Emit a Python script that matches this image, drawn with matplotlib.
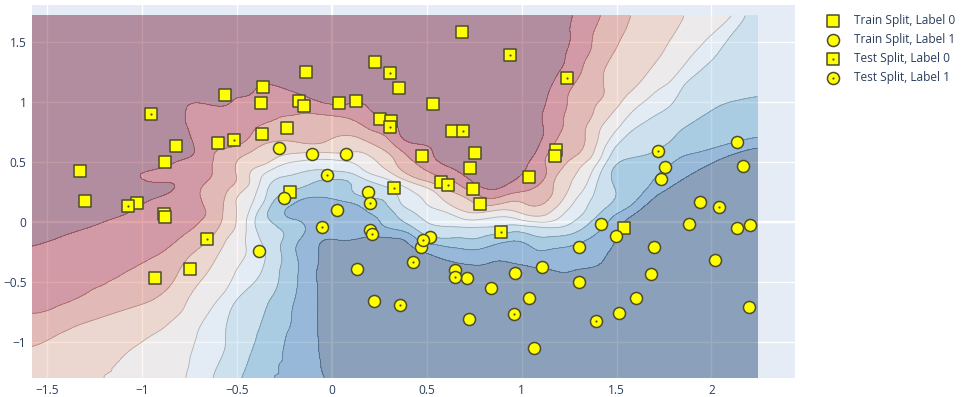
import numpy as np
import matplotlib
matplotlib.use("Agg")
import matplotlib.pyplot as plt
from matplotlib.legend_handler import HandlerTuple

# punktid loetud pildilt (x, y)
train0_x = [-0.563, -0.365, -0.372, -0.367, -0.598, -0.823, -0.879, -1.326, -1.30, 0.686,
            0.228, 0.353, -0.135, -0.172, -0.146, 0.035, 0.128, 0.535, 0.251, 0.314,
            -0.235, -0.219, 0.474, 0.635, 0.754, 0.73, 0.577, 0.742, 0.782, 1.183,
            1.177, 1.039, -1.028, -0.886, -0.879, -0.749, -0.933, 1.537]
train0_y = [1.058, 1.127, 0.997, 0.731, 0.661, 0.633, 0.503, 0.422, 0.178, 1.581,
            1.331, 1.119, 1.25, 1.011, 0.964, 0.992, 1.006, 0.986, 0.856, 0.842,
            0.781, 0.253, 0.55, 0.756, 0.578, 0.447, 0.336, 0.28, 0.15, 0.60,
            0.553, 0.378, 0.156, 0.067, 0.044, -0.392, -0.467, -0.047]

train1_x = [-0.277, -0.105, 0.074, -0.253, 0.188, 1.754, 1.732, 2.132, 2.165, 1.937,
            -0.382, 0.028, 0.2, 0.132, 0.223, 0.516, 0.472, 0.651, 0.714, 0.839,
            0.963, 0.723, 1.105, 1.037, 1.067, 1.3, 1.3, 1.418, 1.498, 1.514,
            1.6, 1.697, 1.682, 1.881, 2.021, 2.133, 2.202, 2.2]
train1_y = [0.619, 0.564, 0.567, 0.2, 0.25, 0.461, 0.358, 0.664, 0.464, 0.169,
            -0.242, 0.103, -0.067, -0.389, -0.661, -0.122, -0.206, -0.40, -0.47, -0.55,
            -0.428, -0.811, -0.378, -0.636, -1.05, -0.211, -0.5, -0.014, -0.114, -0.758,
            -0.636, -0.208, -0.433, -0.017, -0.317, -0.053, -0.028, -0.711]

test0_x = [-0.955, -0.514, 0.940, 0.307, 0.307, 0.693, 0.614, 0.328, 1.239, -1.075, -0.66, 0.893]
test0_y = [0.905, 0.683, 1.392, 1.239, 0.789, 0.756, 0.311, 0.286, 1.203, 0.136, -0.139, -0.081]

test1_x = [-0.025, 1.716, -0.054, 0.2, 0.212, 0.425, 0.36, 0.481, 0.647, 0.961, 1.389, 2.04]
test1_y = [0.392, 0.589, -0.044, 0.156, -0.1, -0.333, -0.689, -0.15, -0.456, -0.767, -0.822, 0.122]

labels = ["Train Split, Label 0", "Train Split, Label 1", "Test Split, Label 0", "Test Split, Label 1"]

# RdBu (colorbrewer) nagu plotly-s
rdbu = ["#67001f", "#b2182b", "#d6604d", "#f4a582", "#fddbc7", "#f7f7f7",
        "#d1e5f0", "#92c5de", "#4393c3", "#2166ac", "#053061"]

# kNN (k=15) tõenäosus kõigi punktide põhjal
X_all = np.column_stack([train0_x + test0_x + train1_x + test1_x,
                         train0_y + test0_y + train1_y + test1_y])
y_all = np.array([0] * (len(train0_x) + len(test0_x)) + [1] * (len(train1_x) + len(test1_x)))
xr = np.arange(-1.58, 2.255, 0.02)
yr = np.arange(-1.30, 1.73, 0.02)
xx, yy = np.meshgrid(xr, yr)
pts = np.column_stack([xx.ravel(), yy.ravel()])
d = ((pts[:, None, :] - X_all[None, :, :]) ** 2).sum(axis=2)
nn = np.argsort(d, axis=1)[:, :15]
Z = y_all[nn].mean(axis=1).reshape(xx.shape)

# kergelt siluda, et kontuurid oleks plotly moodi ümarad
k = np.exp(-0.5 * (np.arange(-5, 6) / 2.0) ** 2)
k = k / k.sum()
Zp = np.pad(Z, 5, mode="edge")
Zp = np.apply_along_axis(lambda r: np.convolve(r, k, mode="same"), 1, Zp)
Zp = np.apply_along_axis(lambda c: np.convolve(c, k, mode="same"), 0, Zp)
Z = Zp[5:-5, 5:-5]

cmap = matplotlib.colors.LinearSegmentedColormap.from_list("rdbu", rdbu)
band_colors = [cmap(i / 9) for i in range(10)]
levels = [-0.01] + [round(0.1 * i, 2) for i in range(1, 10)] + [1.01]

fig = plt.figure(figsize=(9.67, 3.97), dpi=100)
ax = fig.add_axes([32 / 967, 1 - 378 / 397, (795 - 32) / 967, (378 - 5) / 397])
ax.set_facecolor("#E5ECF6")
ax.grid(True, color="white", lw=1)
ax.set_axisbelow(True)
ax.axhline(0, color="white", lw=1.6, zorder=0.5)
ax.axvline(0, color="white", lw=1.6, zorder=0.5)

ax.contourf(xx, yy, Z, levels=levels, colors=band_colors, alpha=0.4, zorder=1)
ax.contour(xx, yy, Z, levels=levels[1:-1], colors="#444444", linewidths=0.6, alpha=0.35, zorder=1.1)

yellow = "#ffff00"
edge = "#4d4d2a"
ms = 75
lw = 1.1
h0 = ax.scatter(train0_x, train0_y, s=ms, marker="s", c=yellow, edgecolors=edge, linewidths=lw, zorder=3)
h1 = ax.scatter(train1_x, train1_y, s=ms, marker="o", c=yellow, edgecolors=edge, linewidths=lw, zorder=3)
h2 = ax.scatter(test0_x, test0_y, s=ms, marker="s", c=yellow, edgecolors=edge, linewidths=lw, zorder=3)
d2 = ax.scatter(test0_x, test0_y, s=2.5, marker="o", c=edge, linewidths=0, zorder=3.1)
h3 = ax.scatter(test1_x, test1_y, s=ms, marker="o", c=yellow, edgecolors=edge, linewidths=lw, zorder=3)
d3 = ax.scatter(test1_x, test1_y, s=2.5, marker="o", c=edge, linewidths=0, zorder=3.1)

ax.set_xlim(-1.58, 2.44)
ax.set_ylim(-1.30, 1.81)
ax.set_xticks([-1.5, -1, -0.5, 0, 0.5, 1, 1.5, 2])
ax.set_xticklabels(["\u22121.5", "\u22121", "\u22120.5", "0", "0.5", "1", "1.5", "2"])
ax.set_yticks([-1, -0.5, 0, 0.5, 1, 1.5])
ax.set_yticklabels(["\u22121", "\u22120.5", "0", "0.5", "1", "1.5"])
ax.tick_params(length=0, labelsize=8.6, labelcolor="#2a3f5f", pad=4)
for lab in ax.get_xticklabels() + ax.get_yticklabels():
    lab.set_family("Open Sans")
for s in ax.spines.values():
    s.set_visible(False)

leg = ax.legend([h0, h1, (h2, d2), (h3, d3)], labels,
                handler_map={tuple: HandlerTuple(ndivide=1)},
                loc="upper left", bbox_to_anchor=(824 / 967, 1 - 14 / 397),
                bbox_transform=fig.transFigure, frameon=False, borderpad=0,
                borderaxespad=0, handlelength=1.5, handletextpad=1.0,
                labelspacing=0.5, scatterpoints=1,
                prop={"family": "Open Sans", "size": 8.6})
for t in leg.get_texts():
    t.set_color("#2a3f5f")

fig.savefig("out.png", dpi=100)
